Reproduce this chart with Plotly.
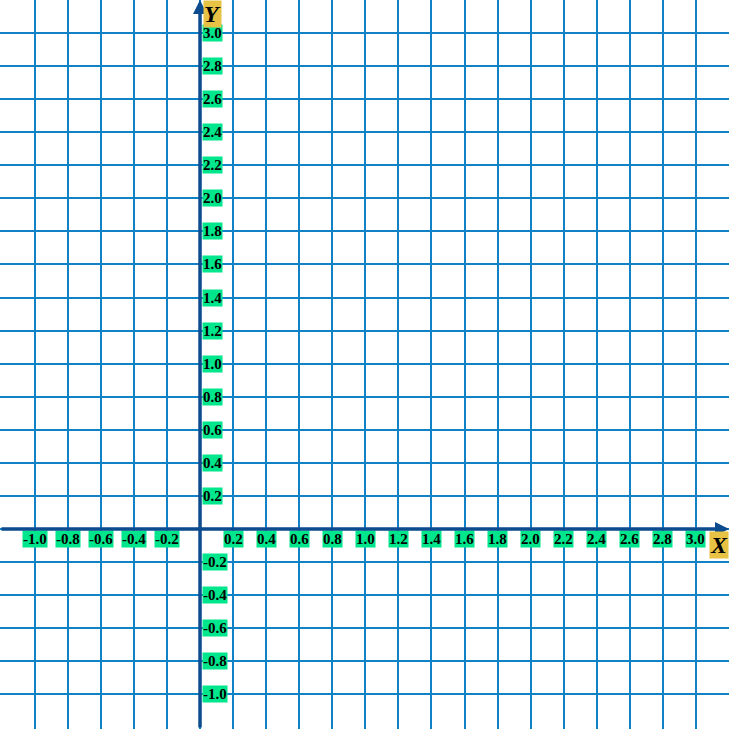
import plotly.graph_objects as go

# Tick values and labels
x_ticks = [-1.0, -0.8, -0.6, -0.4, -0.2, 0.2, 0.4, 0.6, 0.8, 1.0, 1.2, 1.4, 1.6, 1.8,
           2.0, 2.2, 2.4, 2.6, 2.8, 3.0]
y_ticks = [0.2, 0.4, 0.6, 0.8, 1.0, 1.2, 1.4, 1.6, 1.8, 2.0, 2.2, 2.4, 2.6, 2.8, 3.0,
           -0.2, -0.4, -0.6, -0.8, -1.0]
grid_vals = [-1.0, -0.8, -0.6, -0.4, -0.2, 0.0, 0.2, 0.4, 0.6, 0.8, 1.0, 1.2, 1.4, 1.6,
             1.8, 2.0, 2.2, 2.4, 2.6, 2.8, 3.0]
x_range = [-1.21, 3.2]
y_range = [-1.21, 3.2]
axis_titles = ["X", "Y"]

GRID = "#1282c6"
AXIS = "#0b4b8e"
LABEL_BG = "#00e68c"
TITLE_BG = "#e8c244"
FONT = "Liberation Serif"

fig = go.Figure()
fig.add_trace(go.Scatter(x=[], y=[], mode="markers", showlegend=False, hoverinfo="skip"))

annotations = []
for v in x_ticks:
    annotations.append(dict(x=v, y=0, xref="x", yref="y", text=f"<b>{v:.1f}</b>",
                            showarrow=False, xanchor="center", yanchor="top", yshift=-1,
                            bgcolor=LABEL_BG, borderpad=0,
                            font=dict(family=FONT, size=15, color="black")))
for v in y_ticks:
    annotations.append(dict(x=0, y=v, xref="x", yref="y", text=f"<b>{v:.1f}</b>",
                            showarrow=False, xanchor="left", yanchor="middle", xshift=2,
                            bgcolor=LABEL_BG, borderpad=0,
                            font=dict(family=FONT, size=15, color="black")))

# Axis arrows
annotations.append(dict(x=x_range[1], y=0, ax=x_range[0], ay=0, xref="x", yref="y",
                        axref="x", ayref="y", text="", showarrow=True, arrowhead=2,
                        arrowsize=0.8, arrowwidth=3.5, arrowcolor=AXIS))
annotations.append(dict(x=0, y=y_range[1], ax=0, ay=y_range[0], xref="x", yref="y",
                        axref="x", ayref="y", text="", showarrow=True, arrowhead=2,
                        arrowsize=0.8, arrowwidth=3.5, arrowcolor=AXIS))

# Axis titles
annotations.append(dict(x=x_range[1], y=0, xref="x", yref="y", text=f"<b><i>{axis_titles[0]}</i></b>",
                        showarrow=False, xanchor="right", yanchor="top", yshift=-2,
                        bgcolor=TITLE_BG, borderpad=0,
                        font=dict(family=FONT, size=24, color="black")))
annotations.append(dict(x=0, y=y_range[1], xref="x", yref="y", text=f"<b><i>{axis_titles[1]}</i></b>",
                        showarrow=False, xanchor="left", yanchor="top", xshift=3,
                        bgcolor=TITLE_BG, borderpad=0,
                        font=dict(family=FONT, size=24, color="black")))

fig.update_layout(
    width=729, height=729,
    margin=dict(l=0, r=0, t=0, b=0),
    paper_bgcolor="white", plot_bgcolor="white",
    showlegend=False,
    annotations=annotations,
    xaxis=dict(range=x_range, tickmode="array", tickvals=grid_vals, showgrid=True,
               gridcolor=GRID, gridwidth=2, showticklabels=False, zeroline=False,
               showline=False, fixedrange=True),
    yaxis=dict(range=y_range, tickmode="array", tickvals=grid_vals, showgrid=True,
               gridcolor=GRID, gridwidth=2, showticklabels=False, zeroline=False,
               showline=False, fixedrange=True),
)

fig.write_html("out.html")
